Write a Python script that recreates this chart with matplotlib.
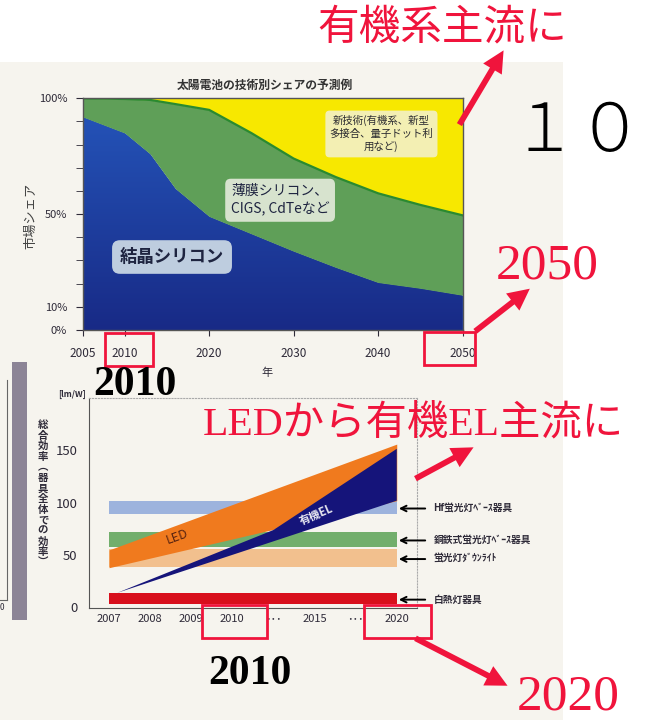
import numpy as np
import matplotlib
matplotlib.use("Agg")
import matplotlib.pyplot as plt
from matplotlib.patches import Rectangle, FancyArrowPatch
from matplotlib.colors import LinearSegmentedColormap

plt.rcParams['font.family'] = ['Noto Sans CJK JP', 'DejaVu Sans']

# --- solar cell share forecast (top chart) ---
years = [2005, 2010, 2013, 2016, 2020, 2025, 2030, 2035, 2040, 2045, 2050]
crystalline = [92, 85, 76, 61, 49, 41.5, 34, 27, 20.5, 18, 15]
thin_film_top = [100, 99.7, 99.3, 97.5, 95, 85, 74, 66, 59, 54, 49.5]
share_ticks = [0, 10, 50, 100]
share_ticklabels = ['0%', '10%', '50%', '100%']
year_ticks = [2005, 2010, 2020, 2030, 2040, 2050]

# --- lighting efficiency (bottom chart) ---
eff_labels = ['2007', '2008', '2009', '2010', '･･･', '2015', '･･･', '2020']
band_names = ['Hf蛍光灯ﾍﾞｰｽ器具', '銅鉄式蛍光灯ﾍﾞｰｽ器具', '蛍光灯ﾀﾞｳﾝﾗｲﾄ', '白熱灯器具']
band_low = [89, 57.5, 39, 3]
band_high = [102, 72.5, 55.5, 14]
band_colors = ['#9db3dd', '#72ae6c', '#f2c08e', '#d80f1c']
led_x = [0, 7]
led_low = [38, 102]
led_high = [55, 156]
oled_top_x = [0.2, 4.0, 7]
oled_top = [14, 74, 151.5]
oled_bottom_x = [0.2, 7]
oled_bottom = [14, 102]

W, H = 648, 720
fig = plt.figure(figsize=(W / 100, H / 100), dpi=100)


def px_axes(l, t, r, b, **kw):
    return fig.add_axes([l / W, 1 - b / H, (r - l) / W, (b - t) / H], **kw)


RED = '#f0143c'
INK = '#2e2a38'

# background: scanned page + white slide
bg = fig.add_axes([0, 0, 1, 1], zorder=0)
bg.set_xlim(0, W)
bg.set_ylim(H, 0)
bg.axis('off')
bg.add_patch(Rectangle((0, 62), 563, H - 62, color='#f6f4ee', lw=0))
bg.add_patch(Rectangle((12, 362), 15, 258, color='#8c8496', lw=0))
bg.plot([7, 7], [380, 600], color='#666', lw=0.8)
bg.plot([0, 7], [600, 600], color='#666', lw=0.8)
bg.text(2, 607, '0', fontsize=6, color=INK, ha='center', va='center')

# ---------------- top chart ----------------
ax1 = px_axes(82.5, 98.3, 462.5, 330, zorder=2)
blue = ax1.fill_between(years, 0, crystalline, color='#1f45a8', lw=0)
grad = np.linspace(0, 1, 256).reshape(-1, 1)
si_cmap = LinearSegmentedColormap.from_list('si', ['#182a86', '#2556bb'])
im = ax1.imshow(grad, extent=[2005, 2050, 0, 100], origin='lower',
                aspect='auto', cmap=si_cmap, zorder=1)
im.set_clip_path(blue.get_paths()[0], transform=ax1.transData)
ax1.fill_between(years, crystalline, thin_film_top, color='#5f9f58', lw=0)
ax1.fill_between(years, thin_film_top, 100, color='#f7e800', lw=0)
ax1.plot(years, thin_film_top, color='#2a8a30', lw=1.6)
ax1.set_xlim(2005, 2050)
ax1.set_ylim(0, 100)
ax1.set_xticks(year_ticks)
ax1.set_yticks(share_ticks)
ax1.set_yticklabels(share_ticklabels)
ax1.set_yticks(range(0, 101, 10), minor=True)
ax1.tick_params(axis='x', length=4, pad=8, labelsize=8.5, colors=INK)
ax1.tick_params(axis='y', which='both', length=5, pad=6, labelsize=8, colors=INK)
for s in ax1.spines.values():
    s.set_color('#555')
    s.set_linewidth(1)

ax1.text(2015.6, 31.5, '結晶シリコン', fontsize=12.5, color='#1e2440',
         ha='center', va='center', fontweight='bold',
         bbox=dict(boxstyle='round,pad=0.45', fc='#cddbe6', ec='none', alpha=0.92))
ax1.text(2028.4, 56, '薄膜シリコン、\nCIGS, CdTeなど', fontsize=10, color='#1e2440',
         ha='center', va='center', linespacing=1.3,
         bbox=dict(boxstyle='round,pad=0.4', fc='#e2ead9', ec='none', alpha=0.92))
ax1.text(2040.4, 84.6, '新技術(有機系、新型\n多接合、量子ドット利\n用など)', fontsize=7.5,
         color='#2a2a30', ha='center', va='center', linespacing=1.35,
         bbox=dict(boxstyle='round,pad=0.4', fc='#f3f0c8', ec='none', alpha=0.9))

# ---------------- bottom chart ----------------
ax2 = px_axes(88.5, 398, 417.3, 607.5, zorder=2)
ax2.set_facecolor('none')
for lo, hi, c in zip(band_low, band_high, band_colors):
    ax2.fill_between([0, 7], lo, hi, color=c, lw=0)
ax2.fill_between(led_x, led_low, led_high, color='#f07a1e', lw=0)
ax2.fill(oled_top_x + oled_bottom_x[::-1], oled_top + oled_bottom[::-1],
         color='#15147a', lw=0)
ax2.set_xlim(-0.5, 7.5)
ax2.set_ylim(0, 200)
ax2.set_xticks(range(len(eff_labels)))
ax2.set_xticklabels(eff_labels)
ax2.set_yticks([0, 50, 100, 150])
ax2.tick_params(axis='x', length=0, pad=5, labelsize=8, colors=INK)
ax2.tick_params(axis='y', length=0, pad=8, labelsize=9.5, colors=INK)
for side in ['left', 'bottom']:
    ax2.spines[side].set_color('#555')
for side in ['top', 'right']:
    ax2.spines[side].set_color('#aaa')
    ax2.spines[side].set_linestyle(':')

ax2.text(1.65, 67.5, 'LED', fontsize=9, color='#5a2410', rotation=20,
         ha='center', va='center')
ax2.text(5.05, 88, '有機EL', fontsize=8, color='#e6e6f0', rotation=23,
         ha='center', va='center', fontweight='bold')
for name, lo, hi in zip(band_names, band_low, band_high):
    ax2.annotate(name, xy=(7.05, (lo + hi) / 2 - 1), xytext=(25, 0),
                 textcoords='offset points', ha='left', va='center',
                 fontsize=7, fontweight='bold', color=INK, annotation_clip=False,
                 arrowprops=dict(arrowstyle='->', color='black', lw=1.4,
                                 shrinkA=4, shrinkB=0, mutation_scale=10))

# ---------------- overlay texts ----------------
fg = fig.add_axes([0, 0, 1, 1], zorder=5)
fg.set_xlim(0, W)
fg.set_ylim(H, 0)
fg.axis('off')
fg.patch.set_alpha(0)

fg.text(265, 85, '太陽電池の技術別シェアの予測例', fontsize=8.5, fontweight='bold',
        color='#333', ha='center', va='center')
fg.text(31, 216, '市場シェア', fontsize=9.5, color='#444', rotation=90,
        ha='center', va='center')
fg.text(267, 373, '年', fontsize=8, color=INK, ha='center', va='center')
fg.text(72, 394, '[lm/W]', fontsize=6, color=INK, ha='center', va='center',
        fontweight='bold')
ylab = '総合効率︵器具全体での効率︶'
for i, ch in enumerate(ylab):
    fg.text(43, 425 + i * 10.6, ch, fontsize=7.5, fontweight='bold', color=INK,
            ha='center', va='center')

fg.text(442, 28, '有機系主流に', fontsize=30, color=RED, ha='center', va='center')
fg.text(577, 132, '１０', fontsize=48, color='black', ha='center', va='center',
        fontweight='light')
fg.text(547, 266, '2050', fontsize=37, color=RED, ha='center', va='center',
        family='Liberation Serif')
fg.text(568, 697, '2020', fontsize=37, color=RED, ha='center', va='center',
        family='Liberation Serif')
fg.text(135, 385, '2010', fontsize=30, color='black', ha='center', va='center',
        family='Liberation Serif', fontweight='bold')
fg.text(250, 674, '2010', fontsize=30, color='black', ha='center', va='center',
        family='Liberation Serif', fontweight='bold')
fg.text(203, 424, 'LEDから有機EL主流に', fontsize=29.8, color=RED, ha='left',
        va='center', family=['Liberation Serif', 'Noto Sans CJK JP'])

for (x, y, w, h) in [(105, 333, 48, 33), (424, 332, 51, 33),
                     (202, 605, 65, 33), (364, 605, 67, 33)]:
    fg.add_patch(Rectangle((x, y), w, h, fill=False, ec=RED, lw=2))

for a, b in [((458, 127), (505, 48)), ((473, 333), (532, 287)),
             ((413, 480), (476, 446)), ((413, 637), (510, 687))]:
    fg.add_patch(FancyArrowPatch(a, b, mutation_scale=12, color=RED, lw=0,
                                 arrowstyle='simple,head_length=1.3,head_width=1.3,tail_width=0.35'))

fig.savefig('out.png', dpi=100)
